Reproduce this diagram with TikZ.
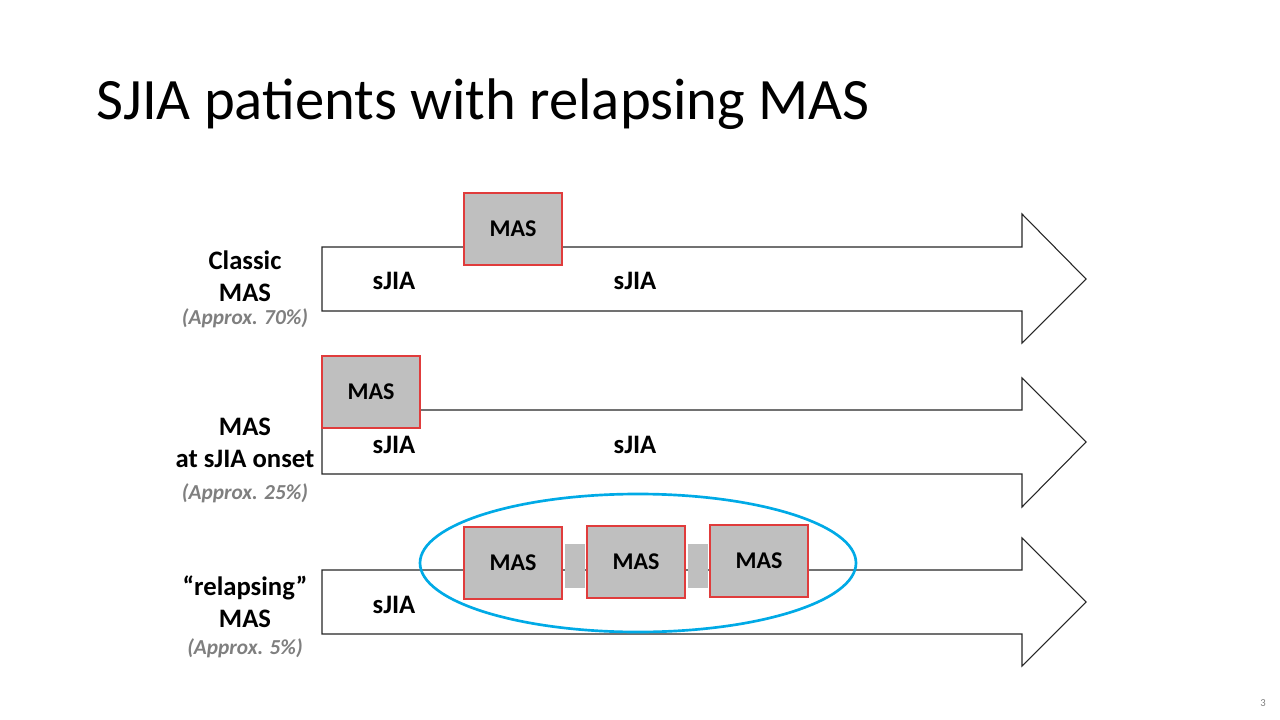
\documentclass[tikz,border=0pt]{standalone}
\usepackage{fontspec}
\setmainfont{Carlito}
\usepackage{tikz}
\definecolor{masred}{RGB}{224,60,60}
\definecolor{masgray}{RGB}{191,191,191}
\definecolor{ringblue}{RGB}{0,170,230}
\definecolor{notegray}{RGB}{127,127,127}

\begin{document}
\begin{tikzpicture}[x=0.75pt,y=-0.75pt]
\tikzstyle{mas}=[rectangle,draw=masred,fill=masgray,thick,minimum width=73.5pt,minimum height=54pt,inner sep=0pt,font=\fontsize{18}{21}\selectfont\bfseries]
\tikzstyle{gap}=[rectangle,fill=masgray,minimum width=15pt,minimum height=33pt,inner sep=0pt]
\tikzstyle{lbl}=[align=center,font=\fontsize{20}{24}\selectfont\bfseries]
\tikzstyle{note}=[text=notegray,font=\fontsize{16}{19}\selectfont\bfseries\itshape]
\tikzstyle{phase}=[font=\fontsize{20}{24}\selectfont\bfseries]
\tikzstyle{timeline}=[draw=black!85,thick,fill=white]
\useasboundingbox (0,0) rectangle (1280,720);
\node[anchor=base west,font=\fontsize{44}{52}\selectfont] (title) at (92,120) {SJIA patients with relapsing MAS};
% classic MAS
\draw[timeline] (322,247) -- (1022,247) -- (1022,214) -- (1086,279) -- (1022,343) -- (1022,311) -- (322,311) -- cycle;
\node[mas] (mas1) at (513,229) {MAS};
\node[phase] (sjia1a) at (394,281) {sJIA};
\node[phase] (sjia1b) at (635,281) {sJIA};
\node[lbl] (classic) at (245,276) {Classic\\MAS};
\node[note] (pct1) at (245,318) {(Approx. 70\%)};
% MAS at onset
\draw[timeline] (322,410) -- (1022,410) -- (1022,378) -- (1086,442) -- (1022,507) -- (1022,474) -- (322,474) -- cycle;
\node[mas] (mas2) at (371,392) {MAS};
\node[phase] (sjia2a) at (394,445) {sJIA};
\node[phase] (sjia2b) at (635,445) {sJIA};
\node[lbl] (onset) at (245,443) {MAS\\at sJIA onset};
\node[note] (pct2) at (245,493) {(Approx. 25\%)};
% relapsing MAS
\draw[timeline] (322,570) -- (1022,570) -- (1022,538) -- (1086,602) -- (1022,666) -- (1022,634) -- (322,634) -- cycle;
\node[gap] (gapa) at (575,566) {};
\node[gap] (gapb) at (698,566) {};
\node[mas] (mas3a) at (513,563) {MAS};
\node[mas] (mas3b) at (636,562) {MAS};
\node[mas] (mas3c) at (759,561) {MAS};
\node[phase] (sjia3) at (394,605) {sJIA};
\node[lbl] (relapse) at (245,602) {``relapsing''\\MAS};
\node[note] (pct3) at (245,648) {(Approx. 5\%)};
\draw[ringblue,line width=2pt] (638,563) ellipse [x radius=218, y radius=69];
\node[text=notegray,font=\fontsize{8}{10}\selectfont] (page) at (1263,703) {3};
\end{tikzpicture}
\end{document}
